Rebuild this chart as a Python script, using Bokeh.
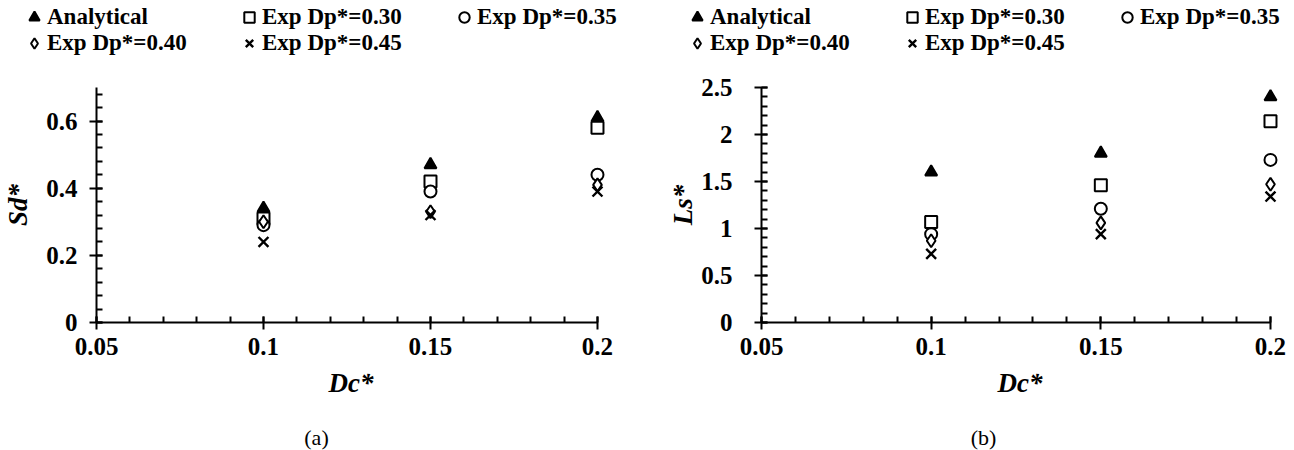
from bokeh.plotting import figure
from bokeh.layouts import row, column
from bokeh.models import Range1d, SingleIntervalTicker, Legend, LegendItem, Label
from bokeh.embed import file_html
from bokeh.resources import INLINE

dc = [0.1, 0.15, 0.2]
series_names = ["Analytical", "Exp Dp*=0.30", "Exp Dp*=0.35", "Exp Dp*=0.40", "Exp Dp*=0.45"]
sd_analytical = [0.34, 0.47, 0.61]
sd_dp030 = [0.31, 0.42, 0.58]
sd_dp035 = [0.29, 0.39, 0.44]
sd_dp040 = [0.30, 0.33, 0.41]
sd_dp045 = [0.24, 0.32, 0.39]
ls_analytical = [1.60, 1.80, 2.40]
ls_dp030 = [1.07, 1.46, 2.14]
ls_dp035 = [0.94, 1.21, 1.73]
ls_dp040 = [0.87, 1.06, 1.47]
ls_dp045 = [0.73, 0.94, 1.34]
captions = ["(a)", "(b)"]

FONT = "Liberation Serif"
markers = ["triangle", "square", "circle", "diamond", "x"]
fills = ["black", "white", "white", "white", None]
LEG_H = 60
CAP_H = 30
MAIN_H = 450 - LEG_H - CAP_H


def add_series(p, x, y, mk, fc):
    if mk == "x":
        return p.scatter(x, y, marker=mk, size=14, line_color="black", line_width=2.4)
    return p.scatter(x, y, marker=mk, size=13 if mk == "diamond" else 12,
                     line_color="black", fill_color=fc, line_width=2)


def blank_fig(h):
    f = figure(width=647, height=h, output_backend="svg", toolbar_location=None,
               x_range=Range1d(0, 1), y_range=Range1d(0, 1),
               x_axis_location=None, y_axis_location=None,
               min_border=0, min_border_left=0, min_border_right=0,
               min_border_top=0, min_border_bottom=0)
    f.grid.visible = False
    f.outline_line_color = None
    return f


def make_legend_fig(legend_x):
    lf = blank_fig(LEG_H)
    items = []
    for name, mk, fc in zip(series_names, markers, fills):
        r = add_series(lf, [-5], [-5], mk, fc)
        items.append(LegendItem(label=name, renderers=[r]))
    leg = Legend(items=items, location=(legend_x, 4), orientation="horizontal", ncols=3,
                 label_text_font=FONT, label_text_font_style="bold", label_text_font_size="23px",
                 label_text_color="black", glyph_width=26, glyph_height=26, label_height=26,
                 label_width=189, label_standoff=-2, spacing=0, padding=0, margin=0,
                 border_line_color=None, background_fill_alpha=0)
    lf.add_layout(leg, "center")
    return lf


def make_caption_fig(text, cx):
    cf = blank_fig(CAP_H)
    cf.add_layout(Label(x=cx, y=13, x_units="screen", y_units="screen", text=text,
                        text_font=FONT, text_font_size="22px", text_align="center",
                        text_baseline="middle", text_color="black"))
    return cf


def make_panel(ys, ymax, yint, ylabel, border_left, border_right, border_top, xend,
               y_standoff, ylab_standoff):
    p = figure(width=647, height=MAIN_H, output_backend="svg", toolbar_location=None,
               x_range=Range1d(0.05, xend), y_range=Range1d(0, ymax),
               min_border_left=border_left, min_border_right=border_right,
               min_border_top=border_top, min_border_bottom=MAIN_H - (322 - LEG_H))
    p.outline_line_color = None
    p.grid.visible = False
    for vals, mk, fc in zip(ys, markers, fills):
        add_series(p, dc, vals, mk, fc)
    xa = p.xaxis[0]
    xa.ticker = SingleIntervalTicker(interval=0.05, num_minor_ticks=5)
    xa.bounds = (0.05, 0.2)
    xa.axis_label = "Dc*"
    ya = p.yaxis[0]
    ya.ticker = SingleIntervalTicker(interval=yint, num_minor_ticks=5)
    ya.axis_label = ylabel
    for ax in (xa, ya):
        ax.axis_line_width = 2
        ax.axis_line_color = "black"
        ax.major_tick_line_width = 2
        ax.minor_tick_line_width = 2
        ax.major_tick_line_color = "black"
        ax.minor_tick_line_color = "black"
        ax.major_tick_in = 6
        ax.major_tick_out = 7
        ax.minor_tick_in = 6
        ax.minor_tick_out = 0
        ax.major_label_text_font = FONT
        ax.major_label_text_font_style = "bold"
        ax.major_label_text_font_size = "25px"
        ax.major_label_text_color = "black"
        ax.axis_label_text_font = FONT
        ax.axis_label_text_font_style = "bold italic"
        ax.axis_label_text_font_size = "27px"
        ax.axis_label_text_color = "black"
    xa.major_label_standoff = 8
    ya.major_label_standoff = y_standoff
    xa.axis_label_standoff = 10
    ya.axis_label_standoff = ylab_standoff
    return p


pa = make_panel([sd_analytical, sd_dp030, sd_dp035, sd_dp040, sd_dp045], 0.7, 0.2, "Sd*",
                96, 42, 87 - LEG_H, 0.2024, 12, 10)
pb = make_panel([ls_analytical, ls_dp030, ls_dp035, ls_dp040, ls_dp045], 2.5, 0.5, "Ls*",
                114, 16, 86 - LEG_H, 0.20236, 22, 0)

la = make_legend_fig(21)
lb = make_legend_fig(37)
ca = make_caption_fig(captions[0], 316)
cb = make_caption_fig(captions[1], 336)

layout = column(row(la, lb, spacing=0), row(pa, pb, spacing=0), row(ca, cb, spacing=0), spacing=0)
open("out.html", "w").write(file_html(layout, INLINE))
